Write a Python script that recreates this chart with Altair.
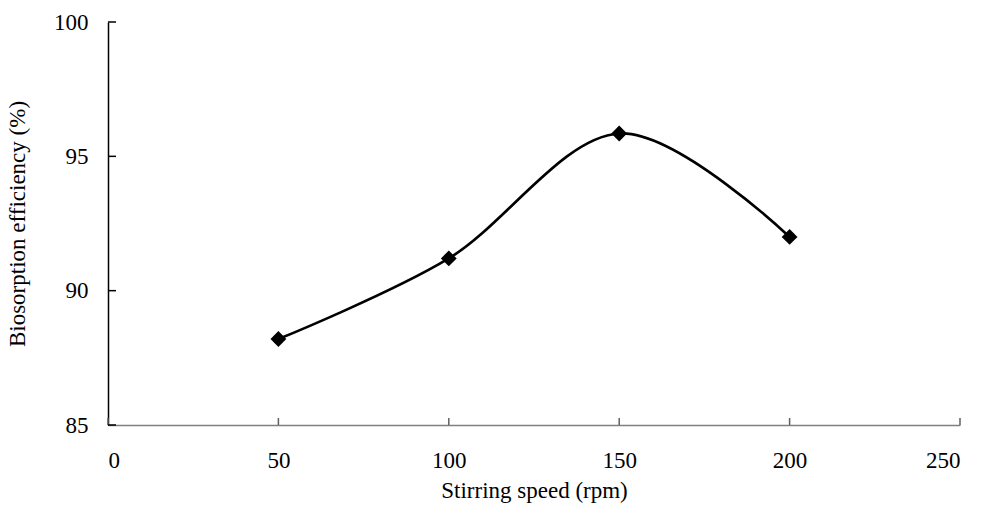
import altair as alt
import pandas as pd

speed = [50, 100, 150, 200]
efficiency = [88.2, 91.2, 95.85, 92.0]
x_ticks = [0, 50, 100, 150, 200, 250]
y_ticks = [85, 90, 95, 100]

W, H = 852, 403
FONT = "Liberation Serif"

df = pd.DataFrame({"speed": speed, "eff": efficiency})
xt = pd.DataFrame({"v": x_ticks})
yt = pd.DataFrame({"v": y_ticks})

xscale = alt.Scale(domain=[0, 250], nice=False, zero=False)
yscale = alt.Scale(domain=[85, 100], nice=False, zero=False)

xaxis = alt.Axis(values=x_ticks, title="Stirring speed (rpm)", grid=False, ticks=False,
                 domainColor="#808080", domainWidth=1.5, labelFont=FONT, labelFontSize=23,
                 labelColor="black", labelPadding=24, titleFont=FONT, titleFontSize=23,
                 titleFontWeight="normal", titleColor="black", titlePadding=7, format="d")
yaxis = alt.Axis(values=y_ticks, title="Biosorption efficiency (%)", grid=False, ticks=False,
                 domainColor="black", domainWidth=1.5, labelFont=FONT, labelFontSize=23,
                 labelColor="black", labelPadding=20, titleFont=FONT, titleFontSize=23,
                 titleFontWeight="normal", titleColor="black", titlePadding=24, format="d")

line = alt.Chart(df).mark_line(interpolate="cardinal", tension=0, color="black", strokeWidth=2.6).encode(
    x=alt.X("speed:Q", scale=xscale, axis=xaxis),
    y=alt.Y("eff:Q", scale=yscale, axis=yaxis),
)
pts = alt.Chart(df).mark_point(shape="diamond", filled=True, color="black", size=250, opacity=1).encode(
    x=alt.X("speed:Q", scale=xscale),
    y=alt.Y("eff:Q", scale=yscale),
)
xtick = alt.Chart(xt).mark_rule(color="#606060", strokeWidth=1.5).encode(
    x=alt.X("v:Q", scale=xscale),
    y=alt.value(H),
    y2=alt.value(H - 7),
)
ytick = alt.Chart(yt).mark_rule(color="black", strokeWidth=1.5).encode(
    y=alt.Y("v:Q", scale=yscale),
    x=alt.value(0),
    x2=alt.value(8),
)

chart = alt.layer(line, xtick, ytick, pts).properties(
    width=W, height=H,
    autosize=alt.AutoSizeParams(type="none"),
    padding={"left": 100, "top": 14, "right": 17, "bottom": 85},
    background="white",
).configure_view(stroke=None)

chart.save("out.html", embed_options={"renderer": "svg", "actions": False})
